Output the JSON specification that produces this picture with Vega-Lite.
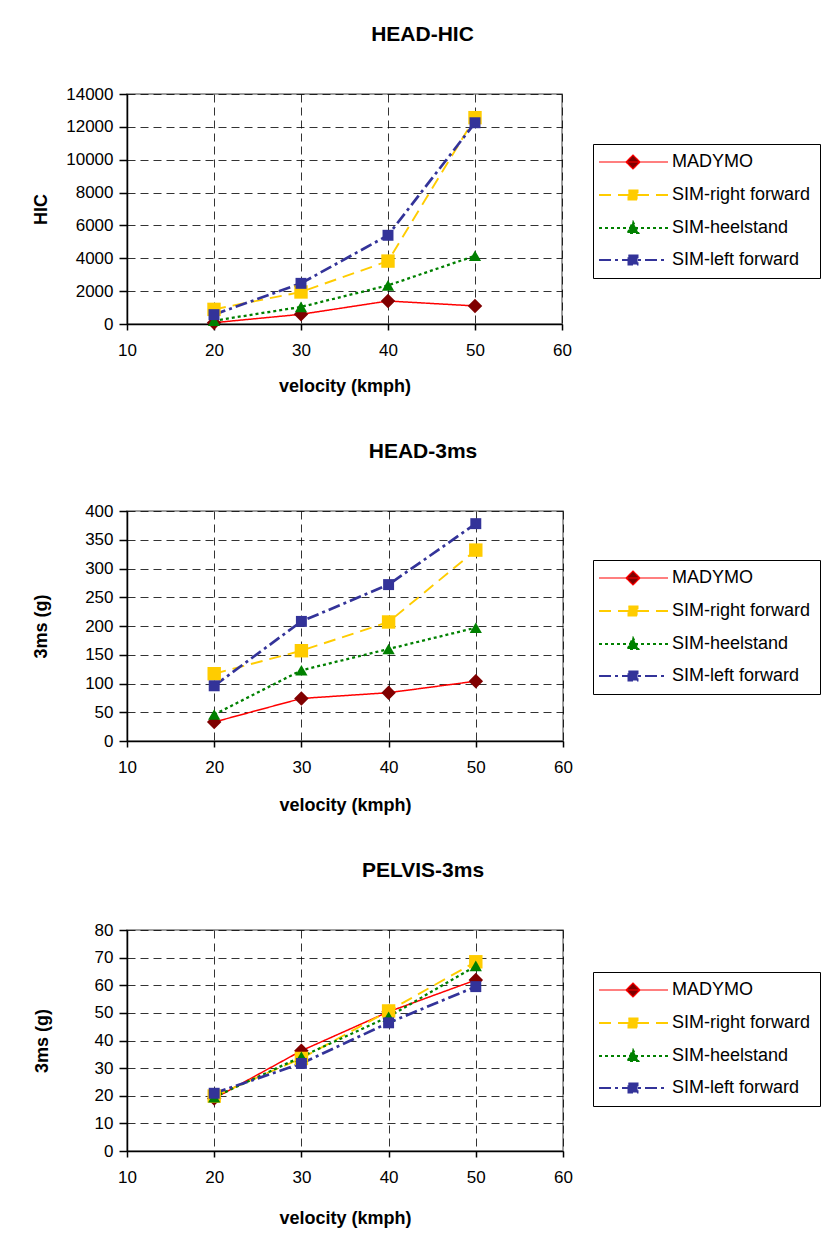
{
  "$schema": "https://vega.github.io/schema/vega-lite/v6.json",
  "background": "white",
  "padding": {"left": 31, "top": 23, "right": 0, "bottom": 0},
  "spacing": 44,
  "datasets": {
    "hic": [
      {"v": 20, "series": "MADYMO", "value": 80},
      {"v": 30, "series": "MADYMO", "value": 590},
      {"v": 40, "series": "MADYMO", "value": 1400},
      {"v": 50, "series": "MADYMO", "value": 1100},
      {"v": 20, "series": "SIM-right forward", "value": 890},
      {"v": 30, "series": "SIM-right forward", "value": 1950},
      {"v": 40, "series": "SIM-right forward", "value": 3830},
      {"v": 50, "series": "SIM-right forward", "value": 12560},
      {"v": 20, "series": "SIM-heelstand", "value": 200},
      {"v": 30, "series": "SIM-heelstand", "value": 1040},
      {"v": 40, "series": "SIM-heelstand", "value": 2350},
      {"v": 50, "series": "SIM-heelstand", "value": 4150},
      {"v": 20, "series": "SIM-left forward", "value": 570},
      {"v": 30, "series": "SIM-left forward", "value": 2475},
      {"v": 40, "series": "SIM-left forward", "value": 5400},
      {"v": 50, "series": "SIM-left forward", "value": 12250}
    ],
    "head3": [
      {"v": 20, "series": "MADYMO", "value": 33},
      {"v": 30, "series": "MADYMO", "value": 74},
      {"v": 40, "series": "MADYMO", "value": 84},
      {"v": 50, "series": "MADYMO", "value": 104},
      {"v": 20, "series": "SIM-right forward", "value": 117},
      {"v": 30, "series": "SIM-right forward", "value": 157},
      {"v": 40, "series": "SIM-right forward", "value": 207},
      {"v": 50, "series": "SIM-right forward", "value": 332},
      {"v": 20, "series": "SIM-heelstand", "value": 46},
      {"v": 30, "series": "SIM-heelstand", "value": 123},
      {"v": 40, "series": "SIM-heelstand", "value": 160},
      {"v": 50, "series": "SIM-heelstand", "value": 197},
      {"v": 20, "series": "SIM-left forward", "value": 96},
      {"v": 30, "series": "SIM-left forward", "value": 208},
      {"v": 40, "series": "SIM-left forward", "value": 272},
      {"v": 50, "series": "SIM-left forward", "value": 378}
    ],
    "pelvis": [
      {"v": 20, "series": "MADYMO", "value": 19},
      {"v": 30, "series": "MADYMO", "value": 36.3},
      {"v": 40, "series": "MADYMO", "value": 50.4},
      {"v": 50, "series": "MADYMO", "value": 61.9},
      {"v": 20, "series": "SIM-right forward", "value": 19.9},
      {"v": 30, "series": "SIM-right forward", "value": 33.5},
      {"v": 40, "series": "SIM-right forward", "value": 50.7},
      {"v": 50, "series": "SIM-right forward", "value": 68.5},
      {"v": 20, "series": "SIM-heelstand", "value": 19.5},
      {"v": 30, "series": "SIM-heelstand", "value": 34.1},
      {"v": 40, "series": "SIM-heelstand", "value": 48.6},
      {"v": 50, "series": "SIM-heelstand", "value": 67},
      {"v": 20, "series": "SIM-left forward", "value": 20.9},
      {"v": 30, "series": "SIM-left forward", "value": 31.7},
      {"v": 40, "series": "SIM-left forward", "value": 46.4},
      {"v": 50, "series": "SIM-left forward", "value": 59.5}
    ]
  },
  "resolve": {"scale": {"y": "independent", "strokeDash": "independent"}, "legend": {"strokeDash": "independent"}},
  "vconcat": [
    {
      "title": {"text": "HEAD-HIC", "dx": 78},
      "width": 435, "height": 230,
      "data": {"name": "hic"},
      "encoding": {
        "x": {"field": "v", "type": "quantitative", "scale": {"domain": [10, 60], "nice": false}, "axis": {"values": [10, 20, 30, 40, 50, 60], "title": "velocity (kmph)"}},
        "y": {"field": "value", "type": "quantitative", "scale": {"domain": [0, 14000], "nice": false}, "axis": {"values": [0, 2000, 4000, 6000, 8000, 10000, 12000, 14000], "title": "HIC", "format": "d", "titlePadding": 15}}
      },
      "layer": [
        {
          "mark": {"type": "line"},
          "encoding": {
            "color": {"field": "series", "type": "nominal", "scale": {"domain": ["MADYMO", "SIM-right forward", "SIM-heelstand", "SIM-left forward"], "range": ["#FF0000", "#FFCC00", "#008000", "#333399"]}, "legend": null},
            "strokeWidth": {"field": "series", "type": "ordinal", "scale": {"domain": ["MADYMO", "SIM-right forward", "SIM-heelstand", "SIM-left forward"], "range": [1.5, 2.7, 2.6, 2.7]}, "legend": null},
            "strokeDash": {"field": "series", "type": "nominal", "scale": {"domain": ["MADYMO", "SIM-right forward", "SIM-heelstand", "SIM-left forward"], "range": [[1, 0], [12, 7], [3, 3], [12, 4, 3, 4]]},
              "legend": {"legendX": 466, "legendY": 50,
                "encoding": {"symbols": {
                  "shape": {"value": {"expr": "datum.value === 'MADYMO' ? 'M-2.4,0H11.4M4.4,-1.4L5.8,0L4.4,1.4L3,0Z' : datum.value === 'SIM-heelstand' ? 'M-2.4,0H11.4M4.4,-1.25L5.5,1H3.3Z' : 'M-2.4,0H11.4M3.48,-0.92H5.32V0.92H3.48Z'"}},
                  "fill": {"value": {"expr": "datum.value === 'MADYMO' ? '#800000' : datum.value === 'SIM-right forward' ? '#FFCC00' : datum.value === 'SIM-heelstand' ? '#008000' : '#333399'"}},
                  "stroke": {"value": {"expr": "datum.value === 'MADYMO' ? '#FF0000' : datum.value === 'SIM-right forward' ? '#FFCC00' : datum.value === 'SIM-heelstand' ? '#008000' : '#333399'"}},
                  "strokeWidth": {"value": {"expr": "datum.value === 'MADYMO' ? 1.2 : 1.8"}},
                  "strokeDash": {"value": {"expr": "datum.value === 'MADYMO' ? [1, 0] : datum.value === 'SIM-right forward' ? [10, 6] : datum.value === 'SIM-heelstand' ? [3, 4] : [12, 4, 3, 4]"}},
                  "opacity": {"value": 1},
                  "size": {"value": 100}
                }}
              }
            }
          }
        },
        {
          "mark": {"type": "point", "filled": true, "opacity": 1, "strokeWidth": 0},
          "encoding": {
            "fill": {"field": "series", "type": "nominal", "scale": {"domain": ["MADYMO", "SIM-right forward", "SIM-heelstand", "SIM-left forward"], "range": ["#800000", "#FFCC00", "#008000", "#333399"]}, "legend": null},
            "size": {"field": "series", "type": "ordinal", "scale": {"domain": ["MADYMO", "SIM-right forward", "SIM-heelstand", "SIM-left forward"], "range": [210, 120, 145, 110]}, "legend": null},
            "shape": {"field": "series", "type": "nominal", "scale": {"domain": ["MADYMO", "SIM-right forward", "SIM-heelstand", "SIM-left forward"], "range": ["diamond", "square", "triangle-up", "square"]}, "legend": null}
          }
        }
      ]
    },
    {
      "title": {"text": "HEAD-3ms", "dx": 78},
      "width": 436, "height": 230,
      "data": {"name": "head3"},
      "encoding": {
        "x": {"field": "v", "type": "quantitative", "scale": {"domain": [10, 60], "nice": false}, "axis": {"values": [10, 20, 30, 40, 50, 60], "title": "velocity (kmph)", "titlePadding": 21}},
        "y": {"field": "value", "type": "quantitative", "scale": {"domain": [0, 400], "nice": false}, "axis": {"values": [0, 50, 100, 150, 200, 250, 300, 350, 400], "title": "3ms (g)", "titlePadding": 34}}
      },
      "layer": [
        {
          "mark": {"type": "line"},
          "encoding": {
            "color": {"field": "series", "type": "nominal", "scale": {"domain": ["MADYMO", "SIM-right forward", "SIM-heelstand", "SIM-left forward"], "range": ["#FF0000", "#FFCC00", "#008000", "#333399"]}, "legend": null},
            "strokeWidth": {"field": "series", "type": "ordinal", "scale": {"domain": ["MADYMO", "SIM-right forward", "SIM-heelstand", "SIM-left forward"], "range": [1.5, 2.7, 2.6, 2.7]}, "legend": null},
            "strokeDash": {"field": "series", "type": "nominal", "scale": {"domain": ["MADYMO", "SIM-right forward", "SIM-heelstand", "SIM-left forward"], "range": [[1, 0], [12, 7], [3, 3], [12, 4, 3, 4]]},
              "legend": {"legendX": 466, "legendY": 49,
                "encoding": {"symbols": {
                  "shape": {"value": {"expr": "datum.value === 'MADYMO' ? 'M-2.4,0H11.4M4.4,-1.4L5.8,0L4.4,1.4L3,0Z' : datum.value === 'SIM-heelstand' ? 'M-2.4,0H11.4M4.4,-1.25L5.5,1H3.3Z' : 'M-2.4,0H11.4M3.48,-0.92H5.32V0.92H3.48Z'"}},
                  "fill": {"value": {"expr": "datum.value === 'MADYMO' ? '#800000' : datum.value === 'SIM-right forward' ? '#FFCC00' : datum.value === 'SIM-heelstand' ? '#008000' : '#333399'"}},
                  "stroke": {"value": {"expr": "datum.value === 'MADYMO' ? '#FF0000' : datum.value === 'SIM-right forward' ? '#FFCC00' : datum.value === 'SIM-heelstand' ? '#008000' : '#333399'"}},
                  "strokeWidth": {"value": {"expr": "datum.value === 'MADYMO' ? 1.2 : 1.8"}},
                  "strokeDash": {"value": {"expr": "datum.value === 'MADYMO' ? [1, 0] : datum.value === 'SIM-right forward' ? [10, 6] : datum.value === 'SIM-heelstand' ? [3, 4] : [12, 4, 3, 4]"}},
                  "opacity": {"value": 1},
                  "size": {"value": 100}
                }}
              }
            }
          }
        },
        {
          "mark": {"type": "point", "filled": true, "opacity": 1, "strokeWidth": 0},
          "encoding": {
            "fill": {"field": "series", "type": "nominal", "scale": {"domain": ["MADYMO", "SIM-right forward", "SIM-heelstand", "SIM-left forward"], "range": ["#800000", "#FFCC00", "#008000", "#333399"]}, "legend": null},
            "size": {"field": "series", "type": "ordinal", "scale": {"domain": ["MADYMO", "SIM-right forward", "SIM-heelstand", "SIM-left forward"], "range": [210, 120, 145, 110]}, "legend": null},
            "shape": {"field": "series", "type": "nominal", "scale": {"domain": ["MADYMO", "SIM-right forward", "SIM-heelstand", "SIM-left forward"], "range": ["diamond", "square", "triangle-up", "square"]}, "legend": null}
          }
        }
      ]
    },
    {
      "title": {"text": "PELVIS-3ms", "dx": 78},
      "width": 436, "height": 221,
      "data": {"name": "pelvis"},
      "encoding": {
        "x": {"field": "v", "type": "quantitative", "scale": {"domain": [10, 60], "nice": false}, "axis": {"values": [10, 20, 30, 40, 50, 60], "title": "velocity (kmph)", "titlePadding": 24}},
        "y": {"field": "value", "type": "quantitative", "scale": {"domain": [0, 80], "nice": false}, "axis": {"values": [0, 10, 20, 30, 40, 50, 60, 70, 80], "title": "3ms (g)", "titlePadding": 43}}
      },
      "layer": [
        {
          "mark": {"type": "line"},
          "encoding": {
            "color": {"field": "series", "type": "nominal", "scale": {"domain": ["MADYMO", "SIM-right forward", "SIM-heelstand", "SIM-left forward"], "range": ["#FF0000", "#FFCC00", "#008000", "#333399"]}, "legend": null},
            "strokeWidth": {"field": "series", "type": "ordinal", "scale": {"domain": ["MADYMO", "SIM-right forward", "SIM-heelstand", "SIM-left forward"], "range": [1.5, 2.7, 2.6, 2.7]}, "legend": null},
            "strokeDash": {"field": "series", "type": "nominal", "scale": {"domain": ["MADYMO", "SIM-right forward", "SIM-heelstand", "SIM-left forward"], "range": [[1, 0], [12, 7], [3, 3], [12, 4, 3, 4]]},
              "legend": {"legendX": 466, "legendY": 42,
                "encoding": {"symbols": {
                  "shape": {"value": {"expr": "datum.value === 'MADYMO' ? 'M-2.4,0H11.4M4.4,-1.4L5.8,0L4.4,1.4L3,0Z' : datum.value === 'SIM-heelstand' ? 'M-2.4,0H11.4M4.4,-1.25L5.5,1H3.3Z' : 'M-2.4,0H11.4M3.48,-0.92H5.32V0.92H3.48Z'"}},
                  "fill": {"value": {"expr": "datum.value === 'MADYMO' ? '#800000' : datum.value === 'SIM-right forward' ? '#FFCC00' : datum.value === 'SIM-heelstand' ? '#008000' : '#333399'"}},
                  "stroke": {"value": {"expr": "datum.value === 'MADYMO' ? '#FF0000' : datum.value === 'SIM-right forward' ? '#FFCC00' : datum.value === 'SIM-heelstand' ? '#008000' : '#333399'"}},
                  "strokeWidth": {"value": {"expr": "datum.value === 'MADYMO' ? 1.2 : 1.8"}},
                  "strokeDash": {"value": {"expr": "datum.value === 'MADYMO' ? [1, 0] : datum.value === 'SIM-right forward' ? [10, 6] : datum.value === 'SIM-heelstand' ? [3, 4] : [12, 4, 3, 4]"}},
                  "opacity": {"value": 1},
                  "size": {"value": 100}
                }}
              }
            }
          }
        },
        {
          "mark": {"type": "point", "filled": true, "opacity": 1, "strokeWidth": 0},
          "encoding": {
            "fill": {"field": "series", "type": "nominal", "scale": {"domain": ["MADYMO", "SIM-right forward", "SIM-heelstand", "SIM-left forward"], "range": ["#800000", "#FFCC00", "#008000", "#333399"]}, "legend": null},
            "size": {"field": "series", "type": "ordinal", "scale": {"domain": ["MADYMO", "SIM-right forward", "SIM-heelstand", "SIM-left forward"], "range": [210, 120, 145, 110]}, "legend": null},
            "shape": {"field": "series", "type": "nominal", "scale": {"domain": ["MADYMO", "SIM-right forward", "SIM-heelstand", "SIM-left forward"], "range": ["diamond", "square", "triangle-up", "square"]}, "legend": null}
          }
        }
      ]
    }
  ],
  "config": {
    "font": "Liberation Sans",
    "view": {"stroke": "#808080", "strokeWidth": 1.5},
    "title": {"font": "Liberation Sans", "fontSize": 21, "fontWeight": "bold", "color": "#000", "offset": 40, "frame": "group", "anchor": "middle"},
    "axis": {
      "labelFont": "Liberation Sans", "labelFontSize": 17, "labelColor": "#000", "labelOverlap": false,
      "titleFont": "Liberation Sans", "titleFontSize": 18, "titleFontWeight": "bold", "titleColor": "#000",
      "domainColor": "#000", "domainWidth": 1.5, "tickColor": "#000", "tickWidth": 1.5,
      "grid": true, "gridColor": "#000", "gridDash": [8, 5], "gridWidth": 1, "gridOpacity": 0.8
    },
    "axisX": {"tickSize": 6, "labelPadding": 12, "titlePadding": 19, "labelFlush": false},
    "axisY": {"tickSize": 8, "labelPadding": 6, "titlePadding": 12},
    "legend": {
      "orient": "none", "title": null, "strokeColor": "#000", "strokeWidth": 1, "padding": 9,
      "rowPadding": 14, "labelFont": "Liberation Sans", "labelFontSize": 18, "labelColor": "#000",
      "labelOffset": 52, "symbolSize": 100, "labelLimit": 400, "fillColor": "white"
    }
  }
}
